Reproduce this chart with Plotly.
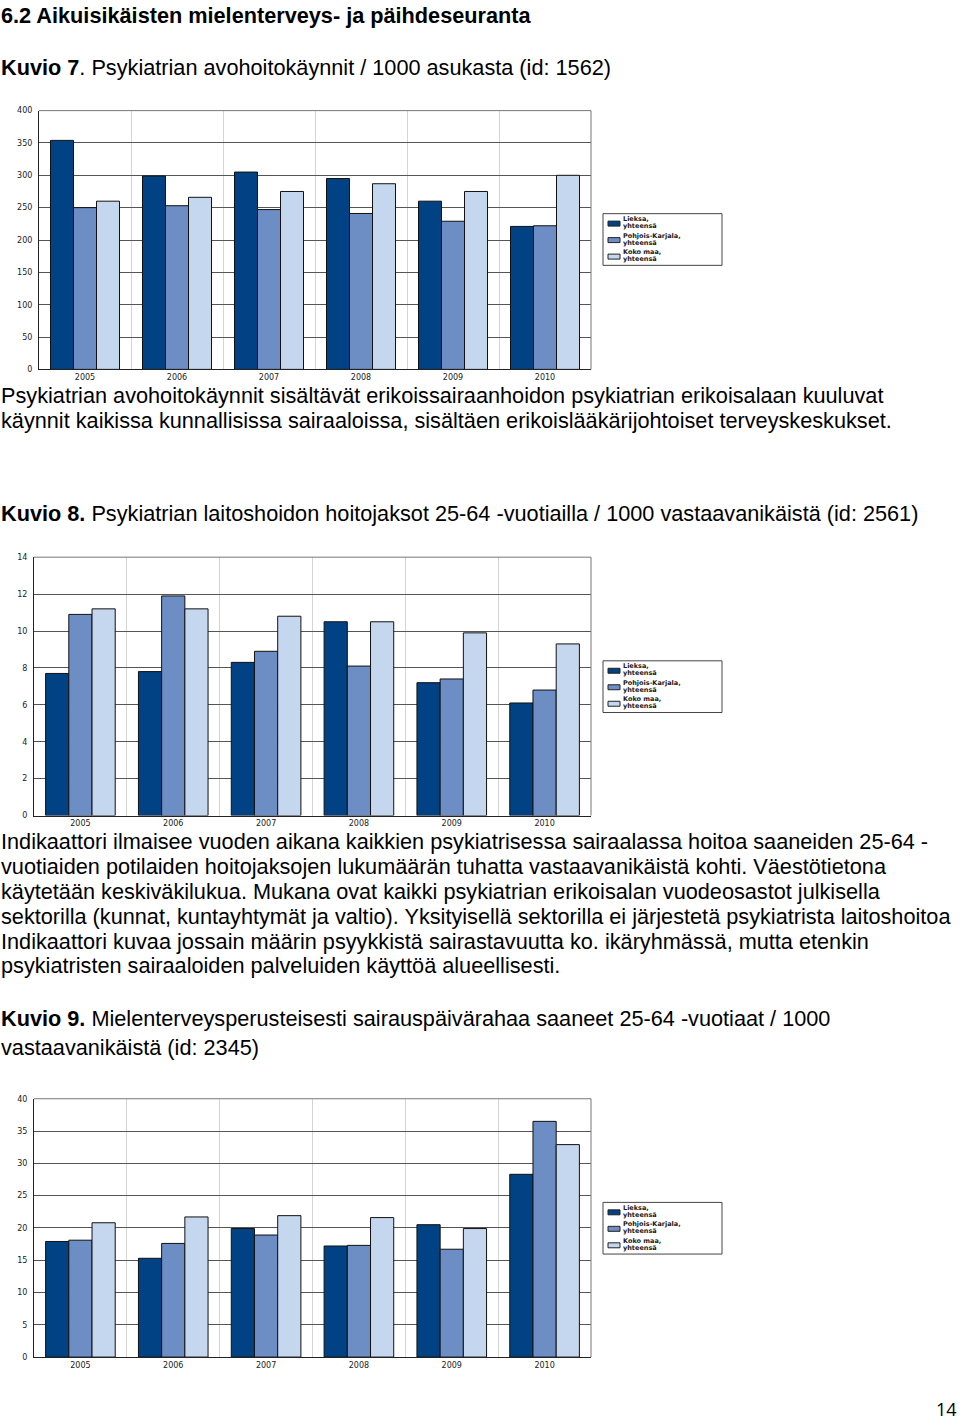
import plotly.graph_objects as go

W, H = 960, 1425

years = [2005, 2006, 2007, 2008, 2009, 2010]
year_labels = ["2005", "2006", "2007", "2008", "2009", "2010"]
series_names = ["Lieksa, yhteensä", "Pohjois-Karjala, yhteensä", "Koko maa, yhteensä"]
legend_lines = [["Lieksa,", "yhteensä"], ["Pohjois-Karjala,", "yhteensä"], ["Koko maa,", "yhteensä"]]
colors = ["#004283", "#6d8dc5", "#c5d6ef"]

# Kuvio 7: Psykiatrian avohoitokäynnit / 1000 asukasta
k7_lieksa = [354, 299, 305, 295, 260, 221]
k7_pkarjala = [250, 253, 247, 241, 229, 222]
k7_kokomaa = [260, 266, 275, 287, 275, 300]
k7_ticks = [0, 50, 100, 150, 200, 250, 300, 350, 400]

# Kuvio 8: Psykiatrian laitoshoidon hoitojaksot 25-64 -vuotiailla / 1000
k8_lieksa = [7.7, 7.8, 8.3, 10.5, 7.2, 6.1]
k8_pkarjala = [10.9, 11.9, 8.9, 8.1, 7.4, 6.8]
k8_kokomaa = [11.2, 11.2, 10.8, 10.5, 9.9, 9.3]
k8_ticks = [0, 2, 4, 6, 8, 10, 12, 14]

# Kuvio 9: Mielenterveysperusteisesti sairauspäivärahaa saaneet / 1000
k9_lieksa = [17.9, 15.3, 19.9, 17.2, 20.5, 28.3]
k9_pkarjala = [18.1, 17.6, 18.9, 17.3, 16.7, 36.5]
k9_kokomaa = [20.8, 21.7, 21.9, 21.6, 19.9, 32.9]
k9_ticks = [0, 5, 10, 15, 20, 25, 30, 35, 40]

fig = go.Figure()


def px_x(v):
    return v / W


def px_y(v):
    return 1 - v / H


charts = [
    dict(data=[k7_lieksa, k7_pkarjala, k7_kokomaa], ticks=k7_ticks,
         left=39, right=591, top=107.3, bottom=367.7, legend_top=211),
    dict(data=[k8_lieksa, k8_pkarjala, k8_kokomaa], ticks=k8_ticks,
         left=34, right=591, top=556.7, bottom=816.7, legend_top=661),
    dict(data=[k9_lieksa, k9_pkarjala, k9_kokomaa], ticks=k9_ticks,
         left=34, right=591, top=1101.7, bottom=1361.7, legend_top=1206),
]

LEGFONT = dict(family="DejaVu Sans", size=6.5, color="#1a1a1a", weight="bold")
shapes = []
annotations = []
layout_updates = {}
for i, ch in enumerate(charts, start=1):
    sfx = "" if i == 1 else str(i)
    for vals, name, col in zip(ch["data"], series_names, colors):
        fig.add_trace(go.Bar(
            x=years, y=vals, name=name,
            marker=dict(color=col, line=dict(color="#111111", width=1)),
            xaxis="x" + sfx, yaxis="y" + sfx, showlegend=False,
        ))
    layout_updates["xaxis" + sfx] = dict(
        domain=[px_x(ch["left"]), px_x(ch["right"])],
        anchor="y" + sfx,
        range=[2004.5, 2010.5],
        tickvals=years, ticktext=year_labels,
        tickfont=dict(family="DejaVu Sans", size=8, color="#222222"),
        showgrid=False, ticks="", ticklen=0,
        showline=True, linecolor="#222222", linewidth=1, mirror=False,
        minor=dict(tick0=2004.5, dtick=1, showgrid=True, gridcolor="#d4d4d4", gridwidth=1),
        zeroline=False, fixedrange=True,
    )
    layout_updates["yaxis" + sfx] = dict(
        domain=[px_y(ch["bottom"]), px_y(ch["top"])],
        anchor="x" + sfx,
        range=[ch["ticks"][0], ch["ticks"][-1]],
        tickvals=ch["ticks"],
        tickfont=dict(family="DejaVu Sans", size=8, color="#222222"),
        ticklabelstandoff=4,
        showgrid=True, gridcolor="#555555", gridwidth=1,
        showline=True, linecolor="#222222", linewidth=1, mirror=False,
        zeroline=False, ticks="", fixedrange=True,
    )
    # gray frame on top and right
    shapes.append(dict(type="line", xref="paper", yref="paper",
                       x0=px_x(ch["left"]), x1=px_x(ch["right"]),
                       y0=px_y(ch["top"]), y1=px_y(ch["top"]),
                       line=dict(color="#777777", width=1)))
    shapes.append(dict(type="line", xref="paper", yref="paper",
                       x0=px_x(ch["right"]), x1=px_x(ch["right"]),
                       y0=px_y(ch["top"]), y1=px_y(ch["bottom"]),
                       line=dict(color="#777777", width=1)))
    # legend box
    T = ch["legend_top"]
    shapes.append(dict(type="rect", xref="paper", yref="paper",
                       x0=px_x(603), x1=px_x(722), y0=px_y(T), y1=px_y(T + 52),
                       line=dict(color="#444444", width=1), fillcolor="white"))
    for k, (lns, col) in enumerate(zip(legend_lines, colors)):
        base = T + 5.5 + k * 16.6
        shapes.append(dict(type="rect", xref="paper", yref="paper",
                           x0=px_x(608), x1=px_x(620),
                           y0=px_y(base + 2), y1=px_y(base + 7),
                           line=dict(color="#222222", width=1), fillcolor=col))
        for j, t in enumerate(lns):
            annotations.append(dict(
                x=px_x(621.5), y=px_y(base + j * 7), xref="paper", yref="paper",
                xanchor="left", yanchor="middle", showarrow=False,
                text=t, font=LEGFONT, borderpad=0,
            ))

TXT = "Liberation Sans, Arial, sans-serif"
FS = 21.7
lines = [
    (12, "<b>6.2 Aikuisikäisten mielenterveys- ja päihdeseuranta</b>"),
    (64, "<b>Kuvio 7</b>. Psykiatrian avohoitokäynnit / 1000 asukasta (id: 1562)"),
    (394, "Psykiatrian avohoitokäynnit sisältävät erikoissairaanhoidon psykiatrian erikoisalaan kuuluvat"),
    (419, "käynnit kaikissa kunnallisissa sairaaloissa, sisältäen erikoislääkärijohtoiset terveyskeskukset."),
    (513, "<b>Kuvio 8.</b> Psykiatrian laitoshoidon hoitojaksot 25-64 -vuotiailla / 1000 vastaavanikäistä (id: 2561)"),
    (843, "Indikaattori ilmaisee vuoden aikana kaikkien psykiatrisessa sairaalassa hoitoa saaneiden 25-64 -"),
    (868, "vuotiaiden potilaiden hoitojaksojen lukumäärän tuhatta vastaavanikäistä kohti. Väestötietona"),
    (893, "käytetään keskiväkilukua. Mukana ovat kaikki psykiatrian erikoisalan vuodeosastot julkisella"),
    (918, "sektorilla (kunnat, kuntayhtymät ja valtio). Yksityisellä sektorilla ei järjestetä psykiatrista laitoshoitoa"),
    (943, "Indikaattori kuvaa jossain määrin psyykkistä sairastavuutta ko. ikäryhmässä, mutta etenkin"),
    (968, "psykiatristen sairaaloiden palveluiden käyttöä alueellisesti."),
    (1021, "<b>Kuvio 9.</b> Mielenterveysperusteisesti sairauspäivärahaa saaneet 25-64 -vuotiaat / 1000"),
    (1050, "vastaavanikäistä (id: 2345)"),
]
for ypx, txt in lines:
    annotations.append(dict(
        x=px_x(-1), y=px_y(ypx), xref="paper", yref="paper",
        xanchor="left", yanchor="middle", showarrow=False,
        text=txt, font=dict(family=TXT, size=FS, color="#000000"),
    ))
annotations.append(dict(
    x=px_x(959), y=px_y(1414), xref="paper", yref="paper",
    xanchor="right", yanchor="middle", showarrow=False,
    text="14", font=dict(family="Open Sans, sans-serif", size=18, color="#000000"),
))

fig.update_layout(
    width=W, height=H,
    margin=dict(l=0, r=0, t=0, b=0),
    paper_bgcolor="white", plot_bgcolor="white",
    barmode="group", bargap=0.25, bargroupgap=0,
    showlegend=False,
    annotations=annotations, shapes=shapes,
    **layout_updates,
)

fig.write_html("out.html", config={"displayModeBar": False},
               post_script="document.body.style.margin='0px';")
